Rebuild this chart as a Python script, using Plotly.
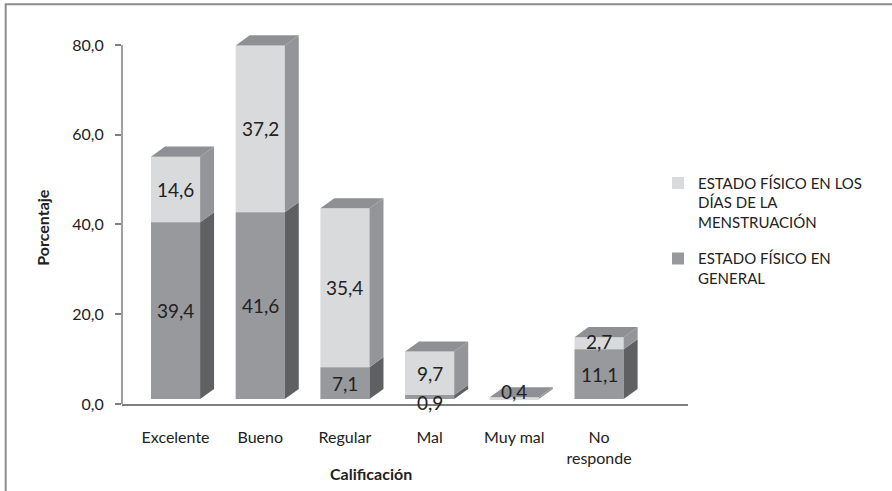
import plotly.graph_objects as go

categories = ["Excelente", "Bueno", "Regular", "Mal", "Muy mal", "No<br>responde"]
general = [39.4, 41.6, 7.1, 0.9, 0.0, 11.1]
menstruacion = [14.6, 37.2, 35.4, 9.7, 0.4, 2.7]
general_labels = ["39,4", "41,6", "7,1", "0,9", "", "11,1"]
menstruacion_labels = ["14,6", "37,2", "35,4", "9,7", "0,4", "2,7"]
name_men = "ESTADO FÍSICO EN LOS<br>DÍAS DE LA<br>MENSTRUACIÓN"
name_gen = "ESTADO FÍSICO EN<br>GENERAL"
y_ticks = [0, 20, 40, 60, 80]

FONT = "Lato, 'Open Sans', sans-serif"
TXT = "#222222"
FLOOR = 1.1      # front-face floor elevation (3D look)
W = 0.58         # bar width (category units)
DX = 0.165       # depth offset x (category units)
DY = 2.25        # depth offset y (value units)
YMAX_AXIS = 80
YMAX_VIEW = 84

LIGHT_F, LIGHT_S = "#d9dadc", "#949598"
DARK_F, DARK_S = "#98999c", "#5f6062"
TOP = "#8f9093"

x = list(range(len(categories)))
fig = go.Figure()

fig.add_trace(go.Bar(x=x, y=menstruacion, base=[FLOOR + g for g in general], width=W,
                     marker=dict(color=LIGHT_F, line=dict(width=0)),
                     name=name_men, legendgroup="m"))
fig.add_trace(go.Bar(x=x, y=general, base=[FLOOR] * len(x), width=W,
                     marker=dict(color=DARK_F, line=dict(width=0)),
                     name=name_gen, legendgroup="g"))

def poly(xs, ys, color):
    fig.add_trace(go.Scatter(x=xs + [xs[0]], y=ys + [ys[0]], fill="toself", mode="lines",
                             fillcolor=color, line=dict(width=0, color=color),
                             showlegend=False, hoverinfo="skip"))

for i in x:
    xr = i + W / 2
    xl = i - W / 2
    y0 = FLOOR
    y1 = FLOOR + general[i]
    y2 = y1 + menstruacion[i]
    if general[i] > 0:
        poly([xr, xr + DX, xr + DX, xr], [y0, y0 + DY, y1 + DY, y1], DARK_S)
    if menstruacion[i] > 0:
        poly([xr, xr + DX, xr + DX, xr], [y1, y1 + DY, y2 + DY, y2], LIGHT_S)
    poly([xl, xr, xr + DX, xl + DX], [y2, y2, y2 + DY, y2 + DY], TOP)

annotations = []
for i in x:
    g = general[i]
    m = menstruacion[i]
    if general_labels[i]:
        annotations.append(dict(x=i, y=FLOOR + g / 2, text=general_labels[i], showarrow=False,
                                font=dict(size=19, color=TXT, family=FONT),
                                yshift=-5 if g < 2 else 0))
    if menstruacion_labels[i]:
        annotations.append(dict(x=i, y=FLOOR + g + m / 2, text=menstruacion_labels[i], showarrow=False,
                                font=dict(size=19, color=TXT, family=FONT),
                                yshift=7 if m < 1 else (2 if m < 4 else 0)))

annotations.append(dict(xref="paper", yref="paper", x=-0.16, y=0.47, text="<b>Porcentaje</b>",
                        textangle=-90, showarrow=False, font=dict(size=16, color=TXT, family=FONT)))
annotations.append(dict(xref="paper", yref="paper", x=0.44, y=-0.215, text="<b>Calificación</b>",
                        showarrow=False, font=dict(size=16, color=TXT, family=FONT)))

fig.update_layout(
    width=892, height=491,
    margin=dict(l=122, r=204, t=27, b=87),
    paper_bgcolor="white", plot_bgcolor="white",
    barmode="overlay",
    separators=", ",
    font=dict(family=FONT, color=TXT),
    showlegend=True,
    legend=dict(x=0.947, y=0.629, xanchor="left", yanchor="top",
                font=dict(size=15, color=TXT, family=FONT),
                traceorder="grouped", tracegroupgap=14, valign="top",
                bgcolor="rgba(0,0,0,0)"),
    annotations=annotations,
    shapes=[
        dict(type="rect", xref="paper", yref="paper",
             x0=-0.2055, x1=1.6, y0=-0.4, y1=1.0604,
             line=dict(color="#8c8c8c", width=2), fillcolor="rgba(0,0,0,0)", layer="below"),
        dict(type="line", xref="paper", yref="y", x0=0, x1=0, y0=0, y1=YMAX_AXIS,
             line=dict(color="#7f7f7f", width=1.5)),
    ],
)
fig.update_xaxes(range=[-0.632, 6.05], tickvals=x, ticktext=categories,
                 showline=True, linecolor="#7f7f7f", linewidth=1.5, ticks="",
                 showgrid=False, zeroline=False,
                 tickfont=dict(size=16, color=TXT, family=FONT), ticklabelstandoff=18)
fig.update_yaxes(range=[0, YMAX_VIEW], tickvals=y_ticks, tickformat=".1f",
                 showline=False, ticks="outside",
                 ticklen=6, tickcolor="#7f7f7f", tickwidth=1.5, showgrid=False, zeroline=False,
                 tickfont=dict(size=16, color=TXT, family=FONT), ticklabelstandoff=8)

fig.write_html("out.html")
